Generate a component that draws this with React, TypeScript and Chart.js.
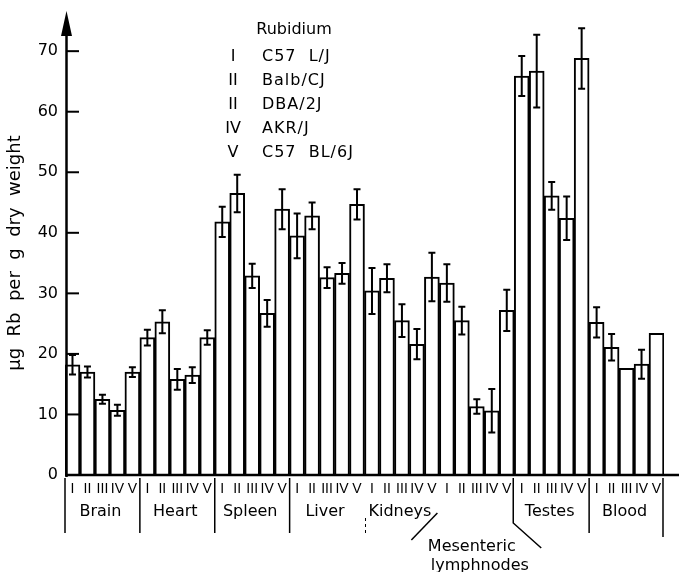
import React, { useEffect, useRef } from 'react';
import { Chart, registerables } from 'chart.js';

Chart.register(...registerables);

// ---- data ----
const organs = ['Brain', 'Heart', 'Spleen', 'Liver', 'Kidneys', 'Mesenteric lymphnodes', 'Testes', 'Blood'];
const strainNumerals = ['I', 'II', 'III', 'IV', 'V'];
const legendNumerals = ['I', 'II', 'II', 'IV', 'V'];
const strainNames = ['C57  L/J', 'Balb/CJ', 'DBA/2J', 'AKR/J', 'C57  BL/6J'];
const legendTitle = 'Rubidium';
const yTitle = 'µg  Rb  per  g  dry  weight';
const yTickValues = [10, 20, 30, 40, 50, 60, 70];

const strainI = [18.2, 22.7, 41.8, 39.5, 30.4, 31.7, 65.9, 25.2];
const strainII = [17.0, 25.3, 46.5, 42.8, 32.5, 25.5, 66.7, 21.1];
const strainIII = [12.5, 15.8, 32.9, 32.6, 25.5, 11.3, 46.1, 17.6];
const strainIV = [10.7, 16.5, 26.7, 33.3, 21.6, 10.6, 42.4, 18.3];
const strainV = [17.0, 22.7, 43.9, 44.7, 32.7, 27.2, 68.8, 23.4];

const errI = [1.6, 1.3, 2.5, 3.7, 3.8, 3.1, 3.3, 2.5];
const errII = [0.9, 1.9, 3.1, 2.2, 2.3, 2.3, 6.0, 2.2];
const errIII = [0.75, 1.7, 2.0, 1.7, 2.7, 1.2, 2.3, 0];
const errIV = [0.9, 1.3, 2.2, 1.7, 2.5, 3.6, 3.6, 2.4];
const errV = [0.8, 1.2, 3.3, 2.5, 4.0, 3.4, 5.0, 0];

const seriesValues = [strainI, strainII, strainIII, strainIV, strainV];
const seriesErrors = [errI, errII, errIII, errIV, errV];

const FONT = '"DejaVu Sans", sans-serif';

export default function App() {
  const ref = useRef<HTMLCanvasElement>(null);

  useEffect(() => {
    const canvas = ref.current;
    if (!canvas) return;

    const decor = {
      id: 'decor',
      afterDatasetsDraw(chart: any) {
        const ctx = chart.ctx;
        const y = chart.scales.y;
        ctx.save();
        ctx.strokeStyle = '#000';
        ctx.lineWidth = 2;
        seriesValues.forEach((vals, d) => {
          const meta = chart.getDatasetMeta(d);
          vals.forEach((v, i) => {
            const e = seriesErrors[d][i];
            if (!e) return;
            const x = meta.data[i].x;
            const yt = y.getPixelForValue(v + e);
            const yb = y.getPixelForValue(v - e);
            ctx.beginPath();
            ctx.moveTo(x, yt);
            ctx.lineTo(x, yb);
            ctx.moveTo(x - 3.5, yt);
            ctx.lineTo(x + 3.5, yt);
            ctx.moveTo(x - 3.5, yb);
            ctx.lineTo(x + 3.5, yb);
            ctx.stroke();
          });
        });
        ctx.restore();
      },
      afterDraw(chart: any) {
        const ctx = chart.ctx;
        const { left, right, bottom } = chart.chartArea;
        const x = chart.scales.x;
        const y = chart.scales.y;
        const catW = (right - left) / organs.length;
        ctx.save();
        ctx.strokeStyle = '#000';
        ctx.fillStyle = '#000';

        // y axis line + arrow
        ctx.lineWidth = 2.5;
        ctx.beginPath();
        ctx.moveTo(left + 1.5, 33);
        ctx.lineTo(left + 1.5, bottom + 2);
        ctx.stroke();
        ctx.beginPath();
        ctx.moveTo(left - 4, 36);
        ctx.lineTo(left + 7, 36);
        ctx.lineTo(left + 1.5, 11);
        ctx.closePath();
        ctx.fill();

        // x axis line
        ctx.beginPath();
        ctx.moveTo(left, bottom);
        ctx.lineTo(chart.width, bottom);
        ctx.stroke();

        // inward y ticks
        ctx.lineWidth = 2;
        yTickValues.forEach((v) => {
          const py = y.getPixelForValue(v);
          ctx.beginPath();
          ctx.moveTo(left + 1, py);
          ctx.lineTo(left + 14, py);
          ctx.stroke();
        });

        // roman numerals under bars
        ctx.font = '14px "Liberation Sans", sans-serif';
        ctx.textAlign = 'center';
        ctx.textBaseline = 'middle';
        seriesValues.forEach((vals, d) => {
          const meta = chart.getDatasetMeta(d);
          vals.forEach((_v, i) => {
            ctx.fillText(strainNumerals[d], meta.data[i].x, bottom + 14);
          });
        });

        // group labels
        ctx.font = '16px ' + FONT;
        organs.forEach((name, i) => {
          if (i === 5) return;
          ctx.fillText(name, x.getPixelForValue(i) - 2, bottom + 37);
        });

        // separators
        ctx.lineWidth = 1.5;
        const bx = (j: number) => left + j * catW;
        [0, 1, 2, 3, 7].forEach((j) => {
          ctx.beginPath();
          ctx.moveTo(bx(j), bottom + 3);
          ctx.lineTo(bx(j), bottom + 58);
          ctx.stroke();
        });
        ctx.beginPath();
        ctx.moveTo(bx(8) - 1, bottom + 3);
        ctx.lineTo(bx(8) - 1, bottom + 62);
        ctx.stroke();
        // faint dashed Liver|Kidneys
        ctx.save();
        ctx.lineWidth = 1;
        ctx.setLineDash([3, 3]);
        ctx.beginPath();
        ctx.moveTo(bx(4) + 1, bottom + 43);
        ctx.lineTo(bx(4) + 1, bottom + 60);
        ctx.stroke();
        ctx.restore();
        // Mesenteric brackets
        ctx.beginPath();
        ctx.moveTo(bx(5) - 2, bottom + 38);
        ctx.lineTo(bx(5) - 28, bottom + 65);
        ctx.stroke();
        ctx.beginPath();
        ctx.moveTo(bx(6) - 1, bottom + 3);
        ctx.lineTo(bx(6) - 1, bottom + 48);
        ctx.lineTo(bx(6) + 27, bottom + 73);
        ctx.stroke();
        const [l1, l2] = organs[5].split(' ');
        ctx.fillText(l1, x.getPixelForValue(5) - 5, bottom + 72);
        ctx.fillText(l2, x.getPixelForValue(5) + 3, bottom + 91);

        // legend block
        ctx.font = '16px ' + FONT;
        ctx.fillText(legendTitle, 294, 30);
        legendNumerals.forEach((n, k) => {
          const py = 57 + k * 24;
          ctx.textAlign = 'center';
          ctx.fillText(n, 233, py);
          ctx.textAlign = 'left';
          (ctx as any).letterSpacing = '1px';
          ctx.fillText(strainNames[k], 262, py);
          (ctx as any).letterSpacing = '0px';
        });

        // y title
        ctx.save();
        ctx.translate(15, 253);
        ctx.rotate(-Math.PI / 2);
        ctx.textAlign = 'center';
        ctx.font = '18px ' + FONT;
        ctx.fillText(yTitle, 0, 0);
        ctx.restore();

        ctx.restore();
      },
    };

    const chart = new Chart(canvas, {
      type: 'bar',
      data: {
        labels: organs,
        datasets: seriesValues.map((vals, d) => ({
          label: strainNumerals[d],
          data: vals,
          backgroundColor: '#ffffff',
          borderColor: '#000000',
          borderWidth: 2,
          borderSkipped: 'start',
          categoryPercentage: 1,
          barPercentage: 1,
        })),
      },
      options: {
        responsive: false,
        animation: false,
        layout: { padding: { top: 33, bottom: 97, left: 0, right: 15 } },
        plugins: { legend: { display: false }, tooltip: { enabled: false }, title: { display: false } },
        scales: {
          x: { display: false },
          y: {
            min: 0,
            max: 73,
            afterFit(scale: any) {
              scale.width = 65;
            },
            grid: { display: false, drawTicks: false },
            border: { display: false },
            ticks: {
              stepSize: 10,
              includeBounds: false,
              padding: 7,
              color: '#000',
              font: { family: FONT, size: 16 },
            },
          },
        },
      },
      plugins: [decor],
    } as any);

    return () => chart.destroy();
  }, []);

  return (
    <canvas
      ref={ref}
      width={679}
      height={572}
      style={{ position: 'fixed', left: 0, top: 0, width: 679, height: 572, display: 'block' }}
    />
  );
}
